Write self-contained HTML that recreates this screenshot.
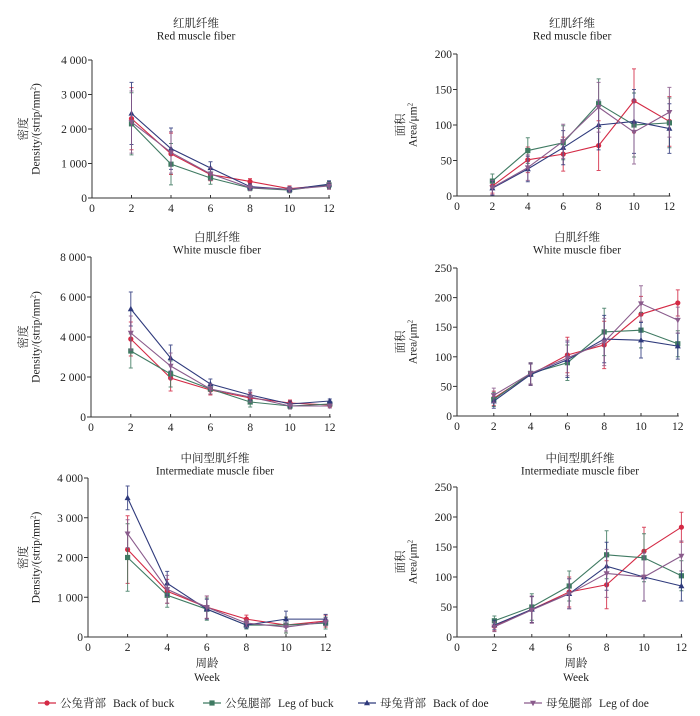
<!DOCTYPE html>
<html><head><meta charset="utf-8">
<style>
html,body{margin:0;padding:0;background:#fff;}
svg{display:block;}
svg text{font-family:"Liberation Serif","Noto Serif CJK SC",serif;}
</style></head>
<body>
<svg id="chart" width="700" height="716" viewBox="0 0 700 716" xmlns="http://www.w3.org/2000/svg" font-family="Liberation Serif, Noto Serif CJK SC, serif"></svg>
<script>
const weeks = [2, 4, 6, 8, 10, 12];
const seriesZh = ["公兔背部", "公兔腿部", "母兔背部", "母兔腿部"];
const seriesEn = ["Back of buck", "Leg of buck", "Back of doe", "Leg of doe"];
// Panel 1: red fiber density
const p1Red = [2300, 1280, 680, 480, 270, 370];
const p1Green = [2150, 980, 580, 290, 230, 380];
const p1Navy = [2450, 1430, 870, 330, 250, 400];
const p1Purple = [2200, 1320, 700, 300, 250, 350];
const p1Err = [900, 600, 180, 80, 80, 100];
// Panel 2: red fiber area
const p2Red = [14, 51, 59, 71, 134, 105];
const p2Green = [21, 64, 75, 130, 100, 103];
const p2Navy = [11, 38, 68, 100, 105, 95];
const p2Purple = [12, 40, 77, 125, 90, 118];
const p2Err = [10, 18, 24, 35, 45, 35];
// Panel 3: white fiber density
const p3Red = [3900, 1950, 1350, 950, 700, 600];
const p3Green = [3300, 2150, 1400, 750, 550, 650];
const p3Navy = [5400, 2950, 1650, 1100, 650, 800];
const p3Purple = [4200, 2550, 1400, 1000, 550, 550];
const p3Err = [850, 650, 250, 250, 150, 100];
// Panel 4: white fiber area
const p4Red = [30, 70, 103, 120, 172, 191];
const p4Green = [28, 72, 90, 142, 145, 122];
const p4Navy = [25, 70, 95, 130, 128, 118];
const p4Purple = [35, 72, 98, 125, 190, 162];
const p4Err = [12, 18, 30, 40, 30, 22];
// Panel 5: intermediate fiber density
const p5Red = [2200, 1150, 750, 450, 300, 400];
const p5Green = [2000, 1050, 700, 300, 300, 350];
const p5Navy = [3500, 1350, 700, 300, 450, 450];
const p5Purple = [2600, 1200, 750, 350, 250, 380];
const p5Err = [850, 300, 280, 100, 200, 150];
const p5ErrNavy = [300, 300, 250, 80, 200, 120];
const p5ErrPurple = [350, 350, 280, 80, 100, 100];
// Panel 6: intermediate fiber area
const p6Red = [18, 46, 75, 87, 143, 183];
const p6Green = [27, 50, 85, 137, 132, 102];
const p6Navy = [20, 46, 72, 118, 100, 85];
const p6Purple = [17, 45, 72, 106, 100, 135];
const p6Err = [8, 22, 25, 40, 40, 25];
const p1Ticks = [0, 1000, 2000, 3000, 4000];
const p2Ticks = [0, 50, 100, 150, 200];
const p3Ticks = [0, 2000, 4000, 6000, 8000];
const p4Ticks = [0, 50, 100, 150, 200, 250];
const p5Ticks = [0, 1000, 2000, 3000, 4000];
const p6Ticks = [0, 50, 100, 150, 200, 250];
const xTicks = [0, 2, 4, 6, 8, 10, 12];

const colors = ["#d42a45", "#3f7a62", "#2f3a7c", "#8a5b8c"];
const NS = "http://www.w3.org/2000/svg";
const svg = document.getElementById("chart");
const FF = "Liberation Serif, Noto Serif CJK SC, serif";

function mk(tag, attrs, parent, text) {
  const e = document.createElementNS(NS, tag);
  for (const k in attrs) e.setAttribute(k, attrs[k]);
  if (tag === "text") e.setAttribute("font-family", FF);
  if (text !== undefined) e.textContent = text;
  (parent || svg).appendChild(e);
  return e;
}
function fmt(v) { return v >= 1000 ? String(v).replace(/(\d)(\d{3})$/, "$1 $2") : String(v); }

function marker(g, shape, x, y, c) {
  let m;
  if (shape === 0) m = mk("circle", {cx: x, cy: y, r: 2.6, fill: c}, g);
  else if (shape === 1) m = mk("rect", {x: x - 2.6, y: y - 2.6, width: 5.2, height: 5.2, fill: c}, g);
  else if (shape === 2) m = mk("polygon", {points: `${x},${y-3.2} ${x-3},${y+2.2} ${x+3},${y+2.2}`, fill: c}, g);
  else m = mk("polygon", {points: `${x},${y+3.2} ${x-3},${y-2.2} ${x+3},${y-2.2}`, fill: c}, g);
  
  
}

function panel(cfg) {
  const g = mk("g", {});
  
  
  const xs = w => cfg.ax + w * cfg.ppw;
  const ys = v => cfg.bot - (v / cfg.max) * (cfg.bot - cfg.top);
  const t1 = mk("text", {x: cfg.tx, y: cfg.ty, "text-anchor": "middle", "font-size": 11.5, fill: "#222"}, g, cfg.zh);
   
  const t2 = mk("text", {x: cfg.tx, y: cfg.ty + 12.5, "text-anchor": "middle", "font-size": 11.5, fill: "#222"}, g, cfg.en);
   
  const xEnd = xs(12);
  const ax1 = mk("line", {x1: cfg.ax, y1: cfg.bot, x2: xEnd + 1, y2: cfg.bot, stroke: "#333", "stroke-width": 1}, g);
   
  const ax2 = mk("line", {x1: cfg.ax, y1: cfg.top, x2: cfg.ax, y2: cfg.bot, stroke: "#333", "stroke-width": 1}, g);
   
  cfg.ticks.forEach(v => {
    const y = ys(v);
    mk("line", {x1: cfg.ax - 4, y1: y, x2: cfg.ax, y2: y, stroke: "#333"}, g);
    const tl = mk("text", {x: cfg.ax - 5, y: y + 4, "text-anchor": "end", "font-size": 11.5, fill: "#222"}, g, fmt(v));
     
  });
  xTicks.forEach(w => {
    const x = xs(w);
    if (w > 0) mk("line", {x1: x, y1: cfg.bot, x2: x, y2: cfg.bot - 3, stroke: "#333"}, g);
    const tl = mk("text", {x: x, y: cfg.bot + 14, "text-anchor": "middle", "font-size": 11.5, fill: "#222"}, g, String(w));
     
  });
  const yl = mk("text", {transform: `translate(${cfg.ylx},${(cfg.top + cfg.bot) / 2}) rotate(-90)`, "text-anchor": "middle", "font-size": 11.5, fill: "#222"}, g);
   
  mk("tspan", {x: 0, dy: 0}, yl, cfg.yzh);
  mk("tspan", {x: 0, dy: 12.5}, yl, cfg.yen);
  mk("tspan", {dy: -4, "font-size": 7}, yl, "2");
  if (cfg.close) mk("tspan", {dy: 4}, yl, ")");
  cfg.series.forEach((vals, si) => {
    const c = colors[si];
    const errs = cfg.errs[si];
    const sg = mk("g", {}, g);
    
    
    const pts = weeks.map((w, i) => xs(w) + "," + ys(vals[i])).join(" ");
    const pl = mk("polyline", {points: pts, fill: "none", stroke: c, "stroke-width": 1.1}, sg);
     
    weeks.forEach((w, i) => {
      const x = xs(w), e = errs[i];
      const y1 = ys(vals[i] + e), y2 = ys(Math.max(0, vals[i] - e));
      const eb = mk("path", {d: `M${x},${y1}V${y2}M${x-2},${y1}H${x+2}M${x-2},${y2}H${x+2}`, stroke: c, "stroke-width": 1, fill: "none", opacity: 0.85}, sg);
       
      marker(sg, si, x, ys(vals[i]), c);
    });
  });
}

panel({name: "panel-red-density", ax: 92, ppw: 19.75, top: 60, bot: 198, max: 4000, ticks: p1Ticks, tx: 196, ty: 27, zh: "红肌纤维", en: "Red muscle fiber", ylx: 27, yzh: "密度", yen: "Density/(strip/mm", close: true, errs: [p1Err, p1Err, p1Err, p1Err], series: [p1Red, p1Green, p1Navy, p1Purple]});
panel({name: "panel-red-area", ax: 457, ppw: 17.7, top: 54, bot: 196, max: 200, ticks: p2Ticks, tx: 572, ty: 27, zh: "红肌纤维", en: "Red muscle fiber", ylx: 404, yzh: "面积", yen: "Area/μm", close: false, errs: [p2Err, p2Err, p2Err, p2Err], series: [p2Red, p2Green, p2Navy, p2Purple]});
panel({name: "panel-white-density", ax: 91, ppw: 19.9, top: 257, bot: 417, max: 8000, ticks: p3Ticks, tx: 217, ty: 241, zh: "白肌纤维", en: "White muscle fiber", ylx: 27, yzh: "密度", yen: "Density/(strip/mm", close: true, errs: [p3Err, p3Err, p3Err, p3Err], series: [p3Red, p3Green, p3Navy, p3Purple]});
panel({name: "panel-white-area", ax: 457, ppw: 18.4, top: 268, bot: 416, max: 250, ticks: p4Ticks, tx: 577, ty: 241, zh: "白肌纤维", en: "White muscle fiber", ylx: 404, yzh: "面积", yen: "Area/μm", close: false, errs: [p4Err, p4Err, p4Err, p4Err], series: [p4Red, p4Green, p4Navy, p4Purple]});
panel({name: "panel-intermediate-density", ax: 88, ppw: 19.8, top: 478, bot: 637, max: 4000, ticks: p5Ticks, tx: 215, ty: 462, zh: "中间型肌纤维", en: "Intermediate muscle fiber", ylx: 27, yzh: "密度", yen: "Density/(strip/mm", close: true, errs: [p5Err, p5Err, p5ErrNavy, p5ErrPurple], series: [p5Red, p5Green, p5Navy, p5Purple]});
panel({name: "panel-intermediate-area", ax: 457, ppw: 18.7, top: 487, bot: 637, max: 250, ticks: p6Ticks, tx: 580, ty: 462, zh: "中间型肌纤维", en: "Intermediate muscle fiber", ylx: 404, yzh: "面积", yen: "Area/μm", close: false, errs: [p6Err, p6Err, p6Err, p6Err], series: [p6Red, p6Green, p6Navy, p6Purple]});

[207, 576].forEach(x => {
  const a = mk("text", {x: x, y: 667, "text-anchor": "middle", "font-size": 11.5, fill: "#222"}, svg, "周龄");
   
  const b = mk("text", {x: x, y: 681, "text-anchor": "middle", "font-size": 11.5, fill: "#222"}, svg, "Week");
   
});

const legX = [38, 203, 358, 524];
seriesZh.forEach((n, i) => {
  const lg = mk("g", {});
  
  
  const x = legX[i], y = 703;
  mk("line", {x1: x, y1: y, x2: x + 18, y2: y, stroke: colors[i], "stroke-width": 1.2}, lg);
  marker(lg, i, x + 9, y, colors[i]);
  const t = mk("text", {x: x + 22, y: y + 4, "font-size": 11.5, fill: "#222"}, lg);
  mk("tspan", {}, t, n);
  mk("tspan", {dx: 7}, t, seriesEn[i]);
});
</script>
</body></html>
